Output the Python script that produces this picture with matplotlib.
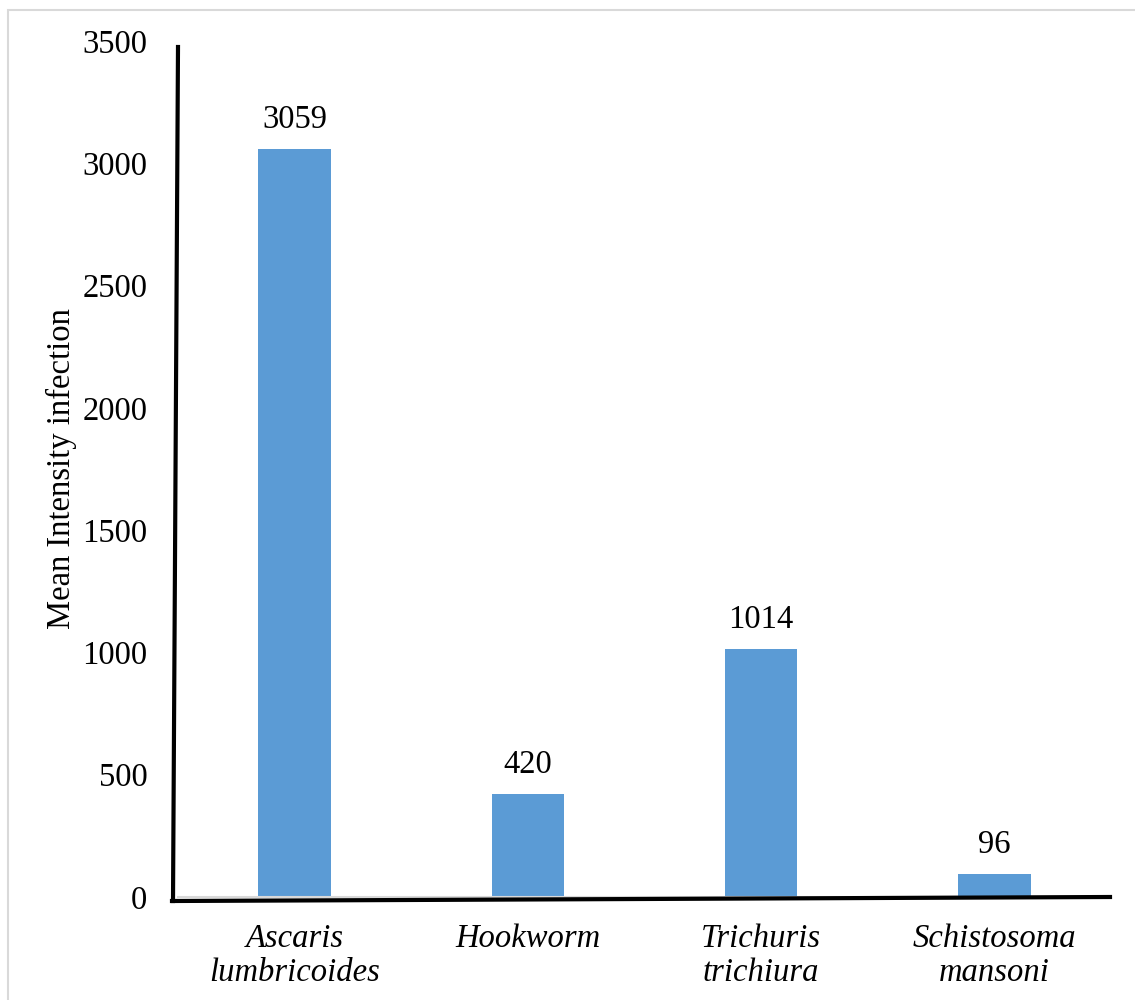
import matplotlib
matplotlib.use("Agg")
import matplotlib.pyplot as plt
from matplotlib.lines import Line2D
from matplotlib.patches import Rectangle

categories = ["Ascaris\nlumbricoides", "Hookworm", "Trichuris\ntrichiura", "Schistosoma\nmansoni"]
values = [3059, 420, 1014, 96]
yticks = [0, 500, 1000, 1500, 2000, 2500, 3000, 3500]

plt.rcParams['font.family'] = ['Liberation Serif', 'DejaVu Serif']

FS = 23.5
W, H = 1135, 1000
fig = plt.figure(figsize=(W / 100, H / 100), dpi=100)

# light gray frame (open to the right and bottom, as in the original crop)
fig.patches.append(Rectangle((8 / W, -0.05), 1.2, 1.05 - 10 / H, transform=fig.transFigure,
                             fill=False, edgecolor='#d9d9d9', linewidth=1.5))

left, right, bottom, top = 178 / W, 1111 / W, 1 - 897 / H, 1 - 41 / H
ax = fig.add_axes([left, bottom, right - left, top - bottom])

x = range(len(categories))
ax.bar(x, values, width=0.31, color='#5B9BD5', zorder=2)
ax.set_xlim(-0.5, len(categories) - 0.5)
ax.set_ylim(0, 3500)
ax.set_yticks(yticks)
ax.set_yticklabels([str(t) for t in yticks], fontsize=FS)
ax.set_xticks(list(x))
ax.set_xticklabels(categories, fontsize=FS, style='italic', linespacing=1.15)
ax.tick_params(axis='y', length=0, pad=22)
ax.tick_params(axis='x', length=0, pad=19)

for s in ['top', 'right', 'left']:
    ax.spines[s].set_visible(False)
ax.spines['bottom'].set_color('#d9d9d9')
ax.spines['bottom'].set_linewidth(1.5)

for xi, v in zip(x, values):
    ax.annotate(str(v), (xi, v), xytext=(0, 10), textcoords='offset points',
                ha='center', va='bottom', fontsize=FS)

fig.text(61 / W, 1 - 469 / H, "Mean Intensity infection", rotation=90,
         ha='center', va='center', fontsize=FS)

# slightly slanted black axis lines as in the original
fig.add_artist(Line2D([178 / W, 173 / W], [1 - 47 / H, 1 - 901 / H],
                      transform=fig.transFigure, color='black', linewidth=3))
fig.add_artist(Line2D([172 / W, 1110 / W], [1 - 901 / H, 1 - 897 / H],
                      transform=fig.transFigure, color='black', linewidth=3))

fig.savefig("out.png", dpi=100, facecolor='white')
